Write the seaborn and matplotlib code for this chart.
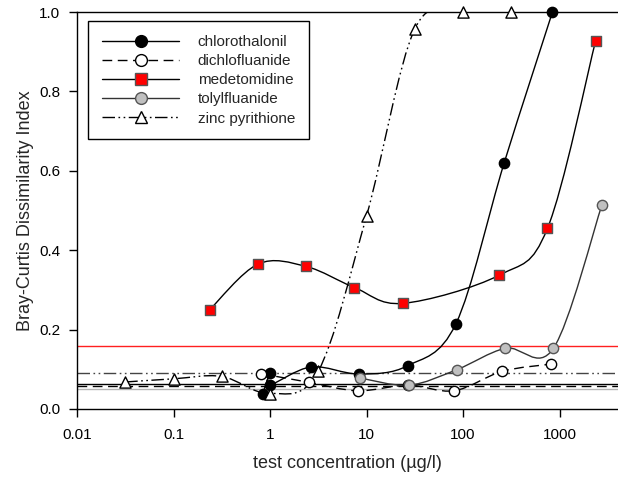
import numpy as np
import pandas as pd
import matplotlib
matplotlib.use("Agg")
import matplotlib.pyplot as plt
from matplotlib.path import Path
from matplotlib.patches import PathPatch
from matplotlib.lines import Line2D
from matplotlib.ticker import FixedLocator, FixedFormatter
import seaborn as sns

# ---------------- data ----------------
chloro_x = [0.84, 1.0, 1.0, 2.67, 8.44, 26.7, 84.5, 267, 845]
chloro_y = [0.038, 0.091, 0.061, 0.106, 0.088, 0.109, 0.215, 0.620, 1.0]

dichlo_x = [0.81, 2.56, 8.1, 27.0, 81, 256, 810]
dichlo_y = [0.089, 0.067, 0.046, 0.060, 0.046, 0.095, 0.113]

medet_x = [0.237, 0.75, 2.37, 7.5, 23.7, 237, 750, 2370]
medet_y = [0.250, 0.365, 0.359, 0.306, 0.266, 0.337, 0.455, 0.928]

tolyl_x = [8.6, 27.5, 86, 275, 865, 2750]
tolyl_y = [0.078, 0.060, 0.099, 0.153, 0.153, 0.514]

zinc_x = [0.0316, 0.1, 0.316, 1.0, 3.16, 10, 31.6, 100, 316]
zinc_y = [0.068, 0.076, 0.082, 0.039, 0.095, 0.486, 0.957, 1.0, 1.0]

series_names = ["chlorothalonil", "dichlofluanide", "medetomidine",
                "tolylfluanide", "zinc pyrithione"]
control_values = [0.062, 0.057, 0.158, 0.051, 0.090]

x_ticks = [0.01, 0.1, 1, 10, 100, 1000]
x_tick_labels = ["0.01", "0.1", "1", "10", "100", "1000"]
y_ticks = [0.0, 0.2, 0.4, 0.6, 0.8, 1.0]
y_tick_labels = ["0.0", "0.2", "0.4", "0.6", "0.8", "1.0"]

# ---------------- style ----------------
sns.set_theme(style="ticks")
plt.rcParams["font.family"] = ["Liberation Sans", "DejaVu Sans"]

fig = plt.figure(figsize=(6.18, 4.78), dpi=100)
ax = fig.add_axes([77 / 618, 69 / 478, 541 / 618, 397 / 478])
ax.set_xscale("log")
ax.set_xlim(0.01, 10 ** 3.606)
ax.set_ylim(0, 1.0)

SX, SY = 96.5, 396.5  # px per decade / px per unit y (for smoothing shape)


def smooth_path(xs, ys):
    u = np.log10(np.asarray(xs, float)) * SX
    v = np.asarray(ys, float) * SY
    P = np.column_stack([u, v])
    n = len(P)
    ext = np.vstack([P[0], P, P[-1]])
    verts = [P[0]]
    codes = [Path.MOVETO]
    for i in range(n - 1):
        p0, p1, p2, p3 = ext[i], ext[i + 1], ext[i + 2], ext[i + 3]
        c1 = p1 + (p2 - p0) / 6.0
        c2 = p2 - (p3 - p1) / 6.0
        verts += [c1, c2, p2]
        codes += [Path.CURVE4] * 3
    V = np.array(verts)
    return Path(np.column_stack([10 ** (V[:, 0] / SX), V[:, 1] / SY]), codes)


dashdotdot = (0, (9, 2.5, 1.2, 2.5, 1.2, 2.5))
dashed = (0, (7, 4))

styles = {
    "chlorothalonil": dict(ls="-", lc="black", marker="o", fc="black", ec="black", s=55),
    "dichlofluanide": dict(ls=dashed, lc="black", marker="o", fc="white", ec="black", s=55),
    "medetomidine": dict(ls="-", lc="black", marker="s", fc="#ff0000", ec="#555555", s=50),
    "tolylfluanide": dict(ls="-", lc="#333333", marker="o", fc="#c0c0c0", ec="#555555", s=55),
    "zinc pyrithione": dict(ls=dashdotdot, lc="black", marker="^", fc="white", ec="black", s=65),
}
control_styles = {
    "chlorothalonil": dict(color="black", ls="-"),
    "dichlofluanide": dict(color="black", ls=dashed),
    "medetomidine": dict(color="#ff2020", ls="-"),
    "tolylfluanide": dict(color="#b4b4b4", ls="-"),
    "zinc pyrithione": dict(color="#444444", ls=dashdotdot),
}

data = {
    "chlorothalonil": (chloro_x, chloro_y),
    "dichlofluanide": (dichlo_x, dichlo_y),
    "medetomidine": (medet_x, medet_y),
    "tolylfluanide": (tolyl_x, tolyl_y),
    "zinc pyrithione": (zinc_x, zinc_y),
}

# control lines
for name, cv in zip(series_names, control_values):
    st = control_styles[name]
    ax.axhline(cv, color=st["color"], ls=st["ls"], lw=1.0, zorder=1)

# smooth curves
for name in series_names:
    xs, ys = data[name]
    st = styles[name]
    patch = PathPatch(smooth_path(xs, ys), facecolor="none", edgecolor=st["lc"],
                      lw=1.0, ls=st["ls"], zorder=2, transform=ax.transData)
    ax.add_patch(patch)

# markers
for i, name in enumerate(series_names):
    xs, ys = data[name]
    st = styles[name]
    df = pd.DataFrame({"x": xs, "y": ys})
    sns.scatterplot(data=df, x="x", y="y", ax=ax, marker=st["marker"],
                    color=st["fc"], edgecolor=st["ec"], linewidth=1.0,
                    s=st["s"], zorder=3 + i, clip_on=False, legend=False)

# axes cosmetics
ax.xaxis.set_major_locator(FixedLocator(x_ticks))
ax.xaxis.set_major_formatter(FixedFormatter(x_tick_labels))
ax.xaxis.set_minor_locator(FixedLocator([]))
ax.set_yticks(y_ticks)
ax.set_yticklabels(y_tick_labels)
ax.tick_params(axis="both", which="major", direction="out", length=6, width=1,
               labelsize=11, color="black", labelcolor="black", pad=6)
ax.tick_params(axis="x", pad=8)
for side in ["left", "bottom", "top"]:
    ax.spines[side].set_visible(True)
    ax.spines[side].set_linewidth(1.0)
    ax.spines[side].set_color("black")
ax.spines["right"].set_visible(False)
ax.set_xlabel("test concentration (µg/l)", fontsize=13, labelpad=9)
ax.set_ylabel("Bray-Curtis Dissimilarity Index", fontsize=13, labelpad=4)

# legend
handles = []
for name in series_names:
    st = styles[name]
    handles.append(Line2D([], [], color=st["lc"], ls=st["ls"], lw=1.0,
                          marker=st["marker"], markerfacecolor=st["fc"],
                          markeredgecolor=st["ec"], markersize=8.5))
leg = ax.legend(handles, series_names, loc="upper left",
                bbox_to_anchor=(0.02, 0.977), borderaxespad=0, fontsize=11,
                handlelength=5.1, handletextpad=1.2, labelspacing=0.34,
                borderpad=0.9, fancybox=False, framealpha=1, edgecolor="black")
leg.get_frame().set_linewidth(1.0)

fig.savefig("out.png", dpi=100)
